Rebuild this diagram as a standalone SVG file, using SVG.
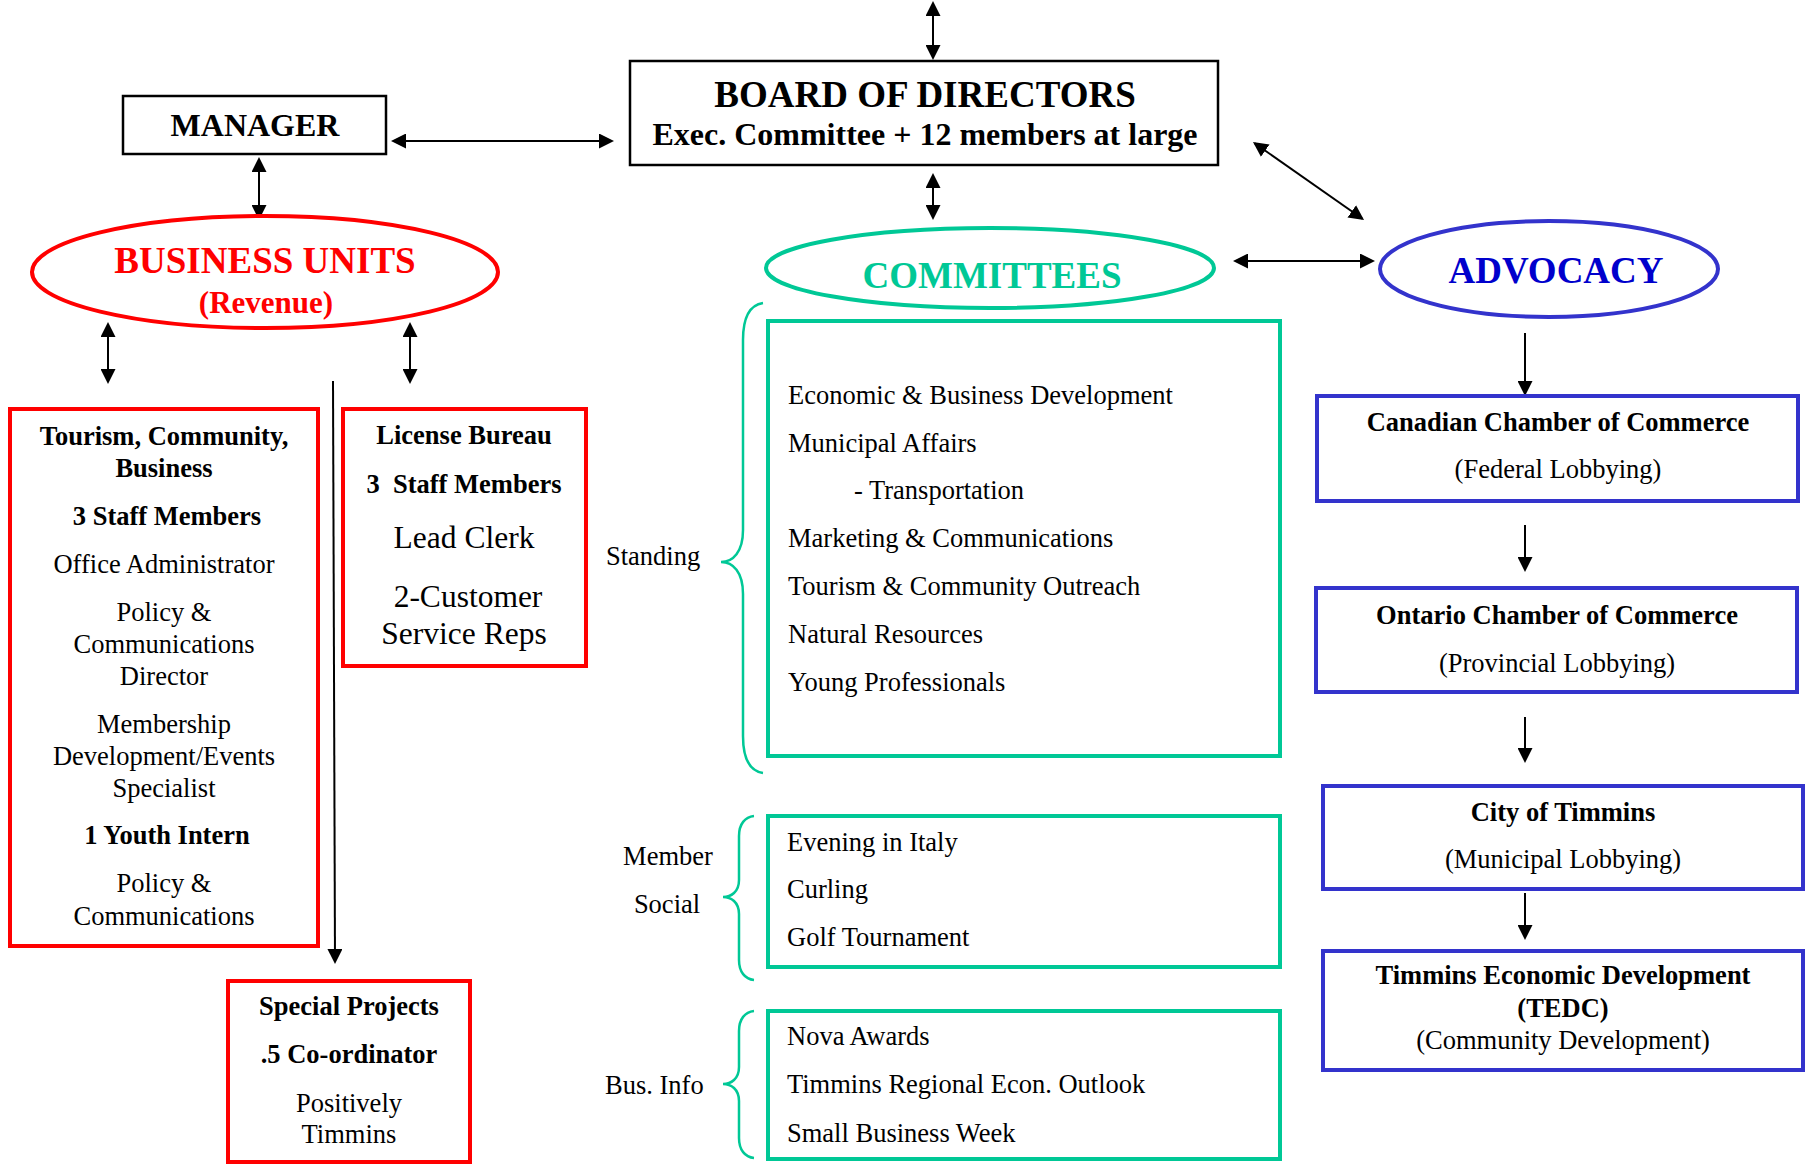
<svg xmlns="http://www.w3.org/2000/svg" width="1816" height="1168" viewBox="0 0 1816 1168">
<style>
text{font-family:"Liberation Serif","Times New Roman",serif;fill:#000;}
.b{font-weight:bold;}
.c{text-anchor:middle;}
.t{font-size:26.5px;}
.big{font-size:31.5px;}
.blk{fill:#fff;stroke:#000;stroke-width:2.5;}
.red{fill:#fff;stroke:#FF0000;stroke-width:4;}
.teal{fill:#fff;stroke:#00C896;stroke-width:4;}
.blue{fill:#fff;stroke:#3333CC;stroke-width:4;}
.brace{fill:none;stroke:#00C896;stroke-width:2.5;}
.ar{stroke:#000;stroke-width:2;fill:none;}
</style>
<defs>
<marker id="ah" viewBox="0 0 15 15" markerUnits="userSpaceOnUse" markerWidth="15" markerHeight="15" refX="13" refY="7.5" orient="auto-start-reverse">
<path d="M0,0 L15,7.5 L0,15 z" fill="#000"/>
</marker>
</defs>
<rect width="1816" height="1168" fill="#fff"/>

<g id="connectors">
<line class="ar" x1="933" y1="3" x2="933" y2="58" marker-start="url(#ah)" marker-end="url(#ah)"/>
<line class="ar" x1="393" y1="141" x2="612" y2="141" marker-start="url(#ah)" marker-end="url(#ah)"/>
<line class="ar" x1="259" y1="159" x2="259" y2="218" marker-start="url(#ah)" marker-end="url(#ah)"/>
<line class="ar" x1="933" y1="175" x2="933" y2="218" marker-start="url(#ah)" marker-end="url(#ah)"/>
<line class="ar" x1="1254.6" y1="143.2" x2="1362.4" y2="218.8" marker-start="url(#ah)" marker-end="url(#ah)"/>
<line class="ar" x1="1235" y1="261" x2="1373" y2="261" marker-start="url(#ah)" marker-end="url(#ah)"/>
<line class="ar" x1="108" y1="324" x2="108" y2="382" marker-start="url(#ah)" marker-end="url(#ah)"/>
<line class="ar" x1="410" y1="324" x2="410" y2="382" marker-start="url(#ah)" marker-end="url(#ah)"/>
<line class="ar" x1="333" y1="381" x2="335" y2="962" marker-end="url(#ah)"/>
<line class="ar" x1="1525" y1="333" x2="1525" y2="394" marker-end="url(#ah)"/>
<line class="ar" x1="1525" y1="525" x2="1525" y2="570" marker-end="url(#ah)"/>
<line class="ar" x1="1525" y1="717" x2="1525" y2="761" marker-end="url(#ah)"/>
<line class="ar" x1="1525" y1="893" x2="1525" y2="938" marker-end="url(#ah)"/>
</g>

<g id="board">
<rect class="blk" x="630" y="61" width="588" height="104"/>
<text class="b c" x="925" y="107" font-size="37">BOARD OF DIRECTORS</text>
<text class="b c" x="925" y="145" font-size="32">Exec. Committee + 12 members at large</text>
</g>

<g id="manager">
<rect class="blk" x="123" y="96" width="263" height="58"/>
<text class="b c" x="255" y="136" font-size="32">MANAGER</text>
</g>

<g id="business-units">
<ellipse cx="265" cy="272" rx="233" ry="56" fill="#fff" stroke="#FF0000" stroke-width="4"/>
<text class="b c" x="265" y="273" font-size="37" style="fill:#FF0000">BUSINESS UNITS</text>
<text class="b c" x="266" y="313" font-size="31" style="fill:#FF0000">(Revenue)</text>
</g>

<g id="tourism-box">
<rect class="red" x="10" y="409" width="308" height="537"/>
<g class="c t">
<text class="b c t" x="164" y="445">Tourism, Community,</text>
<text class="b c t" x="164" y="477">Business</text>
<text class="b c t" x="167" y="525">3 Staff Members</text>
<text class="c t" x="164" y="573">Office Administrator</text>
<text class="c t" x="164" y="621">Policy &amp;</text>
<text class="c t" x="164" y="653">Communications</text>
<text class="c t" x="164" y="685">Director</text>
<text class="c t" x="164" y="733">Membership</text>
<text class="c t" x="164" y="765">Development/Events</text>
<text class="c t" x="164" y="797">Specialist</text>
<text class="b c t" x="167" y="844">1 Youth Intern</text>
<text class="c t" x="164" y="892">Policy &amp;</text>
<text class="c t" x="164" y="925">Communications</text>
</g>
</g>

<g id="license-bureau">
<rect class="red" x="343" y="409" width="243" height="257"/>
<text class="b c t" x="464" y="444">License Bureau</text>
<text class="b c t" x="464" y="493" xml:space="preserve">3  Staff Members</text>
<text class="c big" x="464" y="548">Lead Clerk</text>
<text class="c big" x="468" y="607">2-Customer</text>
<text class="c big" x="464" y="644">Service Reps</text>
</g>

<g id="special-projects">
<rect class="red" x="228" y="981" width="242" height="181"/>
<text class="b c t" x="349" y="1015">Special Projects</text>
<text class="b c t" x="349" y="1063">.5 Co-ordinator</text>
<text class="c t" x="349" y="1112">Positively</text>
<text class="c t" x="349" y="1143">Timmins</text>
</g>

<g id="committees">
<ellipse cx="990" cy="268" rx="224" ry="40" fill="#fff" stroke="#00C896" stroke-width="4"/>
<text class="b c" x="992" y="288" font-size="37" style="fill:#00C896">COMMITTEES</text>
</g>

<g id="standing">
<path class="brace" d="M763,303 C750,305 743,318 743,340 L743,530 C743,552 733,562 721,562 C733,562 743,572 743,594 L743,736 C743,758 750,771 763,773"/>
<text class="t" x="606" y="565">Standing</text>
<rect class="teal" x="768" y="321" width="512" height="435"/>
<text class="t" x="788" y="404">Economic &amp; Business Development</text>
<text class="t" x="788" y="452">Municipal Affairs</text>
<text class="t" x="854" y="499">- Transportation</text>
<text class="t" x="788" y="547">Marketing &amp; Communications</text>
<text class="t" x="788" y="595">Tourism &amp; Community Outreach</text>
<text class="t" x="788" y="643">Natural Resources</text>
<text class="t" x="788" y="691">Young Professionals</text>
</g>

<g id="member-social">
<path class="brace" d="M754,816 C745,817 739,824 739,836 L739,880 C739,892 731,897 723,897 C731,897 739,902 739,914 L739,960 C739,972 745,979 754,980"/>
<text class="c t" x="668" y="865">Member</text>
<text class="c t" x="667" y="913">Social</text>
<rect class="teal" x="768" y="816" width="512" height="151"/>
<text class="t" x="787" y="851">Evening in Italy</text>
<text class="t" x="787" y="898">Curling</text>
<text class="t" x="787" y="946">Golf Tournament</text>
</g>

<g id="bus-info">
<path class="brace" d="M754,1011 C745,1012 739,1019 739,1031 L739,1067 C739,1079 731,1084 723,1084 C731,1084 739,1089 739,1101 L739,1138 C739,1150 745,1157 754,1158"/>
<text class="t" x="605" y="1094">Bus. Info</text>
<rect class="teal" x="768" y="1011" width="512" height="148"/>
<text class="t" x="787" y="1045">Nova Awards</text>
<text class="t" x="787" y="1093">Timmins Regional Econ. Outlook</text>
<text class="t" x="787" y="1142">Small Business Week</text>
</g>

<g id="advocacy">
<ellipse cx="1549" cy="269" rx="169" ry="48" fill="#fff" stroke="#3333CC" stroke-width="4"/>
<text class="b c" x="1556" y="283" font-size="37" style="fill:#0000CC">ADVOCACY</text>
</g>

<g id="canadian">
<rect class="blue" x="1317" y="396" width="481" height="105"/>
<text class="b c t" x="1558" y="431">Canadian Chamber of Commerce</text>
<text class="c t" x="1558" y="478">(Federal Lobbying)</text>
</g>

<g id="ontario">
<rect class="blue" x="1316" y="588" width="481" height="104"/>
<text class="b c t" x="1557" y="624">Ontario Chamber of Commerce</text>
<text class="c t" x="1557" y="672">(Provincial Lobbying)</text>
</g>

<g id="city">
<rect class="blue" x="1323" y="786" width="480" height="103"/>
<text class="b c t" x="1563" y="821">City of Timmins</text>
<text class="c t" x="1563" y="868">(Municipal Lobbying)</text>
</g>

<g id="tedc">
<rect class="blue" x="1323" y="951" width="480" height="119"/>
<text class="b c t" x="1563" y="984">Timmins Economic Development</text>
<text class="b c t" x="1563" y="1017">(TEDC)</text>
<text class="c t" x="1563" y="1049">(Community Development)</text>
</g>
</svg>
